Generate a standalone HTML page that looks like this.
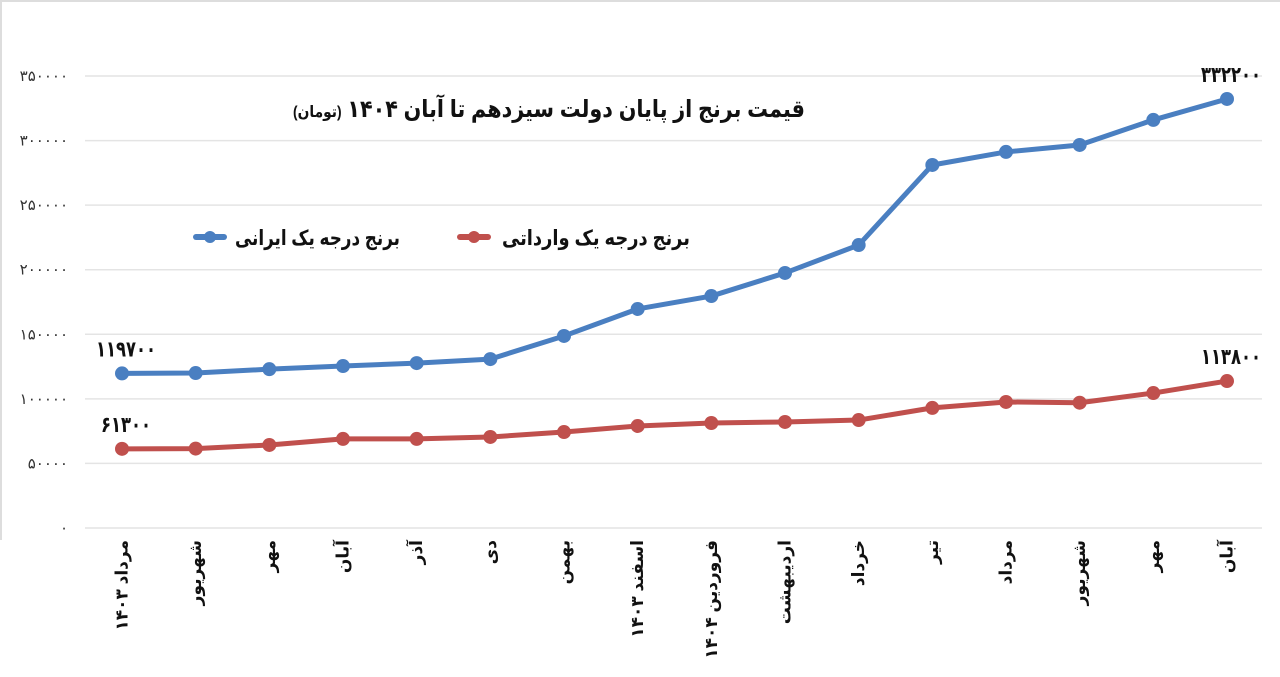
<!DOCTYPE html>
<html><head><meta charset="utf-8">
<style>
html,body{margin:0;padding:0;background:#fff;}
svg{display:block;font-family:"Liberation Sans","Noto Sans CJK SC","DejaVu Sans",sans-serif;}
</style></head>
<body>
<svg id="chart" width="1280" height="677" viewBox="0 0 1280 677">
  <rect x="0" y="0" width="1280" height="677" fill="#fff"/>
  <line x1="0" y1="1" x2="1280" y2="1" stroke="#ddd" stroke-width="2"/>
  <line x1="1" y1="0" x2="1" y2="540" stroke="#ddd" stroke-width="2"/>
  <g id="grid"></g>
  <g id="yticks"></g>
  <g id="xticks"></g>
  <g id="series"></g>
  <text x="293" y="117" textLength="512" lengthAdjust="spacingAndGlyphs" font-size="24" font-weight="bold" fill="#111"><tspan font-size="16">(تومان)</tspan> قیمت برنج از پایان دولت سیزدهم تا آبان ۱۴۰۴</text>
  <g>
    <g>
      <line x1="196" y1="237" x2="224" y2="237" stroke="#4a7fc1" stroke-width="6" stroke-linecap="round"/>
      <circle cx="210" cy="237" r="6" fill="#4a7fc1"/>
      <text x="235" y="245" textLength="165" lengthAdjust="spacingAndGlyphs" font-size="21" font-weight="bold" fill="#111">برنج درجه یک ایرانی</text>
    </g>
    <g>
      <line x1="460" y1="237" x2="488" y2="237" stroke="#c0504d" stroke-width="6" stroke-linecap="round"/>
      <circle cx="474" cy="237" r="6" fill="#c0504d"/>
      <text x="502" y="245" textLength="188" lengthAdjust="spacingAndGlyphs" font-size="21" font-weight="bold" fill="#111">برنج درجه یک وارداتی</text>
    </g>
  </g>
</svg>
<script>
const categories = ["مرداد ۱۴۰۳","شهریور","مهر","آبان","آذر","دی","بهمن","اسفند ۱۴۰۳","فروردین ۱۴۰۴","اردیبهشت","خرداد","تیر","مرداد","شهریور","مهر","آبان"];
const iranianValues = [119700,120000,123000,125400,127700,130800,148700,169600,179600,197500,219100,281100,291200,296600,316000,332200];
const importedValues = [61300,61500,64300,69000,69000,70500,74300,79000,81300,82100,83600,93000,97600,97000,104500,113800];
const yTicks = [0,50000,100000,150000,200000,250000,300000,350000];
const annotations = [
  {series:"iranian", index:0, text:"۱۱۹۷۰۰"},
  {series:"iranian", index:15, text:"۳۳۲۲۰۰"},
  {series:"imported", index:0, text:"۶۱۳۰۰"},
  {series:"imported", index:15, text:"۱۱۳۸۰۰"}
];

const NS = "http://www.w3.org/2000/svg";
const y0 = 528, yTop = 76, yMax = 350000;
const x0 = 122, xStep = (1227 - 122) / 15;
function yScale(v){ return y0 - (v / yMax) * (y0 - yTop); }
function xScale(i){ return x0 + i * xStep; }
function fa(n){ return String(n).replace(/\d/g, d => "۰۱۲۳۴۵۶۷۸۹"[d]); }
function mk(tag, attrs, parent){
  const e = document.createElementNS(NS, tag);
  for (const k in attrs) e.setAttribute(k, attrs[k]);
  parent.appendChild(e);
  return e;
}
const grid = document.getElementById("grid");
const yt = document.getElementById("yticks");
yTicks.forEach(v => {
  const gl = mk("line", {x1:85, x2:1262, y1:yScale(v), y2:yScale(v), stroke:"#e4e4e4", "stroke-width":1.5}, grid);
  
  
  const t = mk("text", {x:68, y:yScale(v)+5, "text-anchor":"end", "font-size":15, fill:"#333"}, yt);
  t.textContent = fa(v);
  
  
});
const xt = document.getElementById("xticks");
categories.forEach((c, i) => {
  const t = mk("text", {x:0, y:0, "text-anchor":"end", "dominant-baseline":"central", "font-size":17, "font-weight":"bold", fill:"#111", transform:`translate(${xScale(i)},540) rotate(-90)`}, xt);
  t.textContent = c;
  
  
});
const sg = document.getElementById("series");
function drawSeries(vals, color, name){
  const g = mk("g", {}, sg);
  
  
  const pl = mk("polyline", {points: vals.map((v,i)=>xScale(i)+","+yScale(v)).join(" "), fill:"none", stroke:color, "stroke-width":5, "stroke-linejoin":"round"}, g);
  
  
  vals.forEach((v,i) => {
    const c = mk("circle", {cx:xScale(i), cy:yScale(v), r:7, fill:color}, g);
    
    
  });
}
drawSeries(iranianValues, "#4a7fc1", "iranian-series");
drawSeries(importedValues, "#c0504d", "imported-series");
annotations.forEach(a => {
  const vals = a.series === "iranian" ? iranianValues : importedValues;
  const len = a.text.length * 10;
  const t = mk("text", {x:xScale(a.index) - len/2 + 4, y:yScale(vals[a.index]) - 17, textLength:len, lengthAdjust:"spacingAndGlyphs", "font-size":22, "font-weight":"bold", fill:"#111"}, sg);
  t.textContent = a.text;
  
  
});
</script>
</body></html>
